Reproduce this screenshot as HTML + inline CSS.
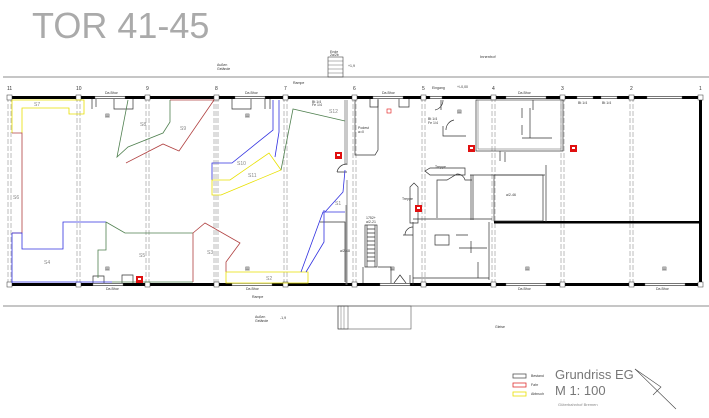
<!DOCTYPE html>
<html><head><meta charset="utf-8"><style>
html,body{margin:0;padding:0;background:#fff;}
svg{display:block;}
text{font-family:"Liberation Sans",sans-serif;}
.t{font-size:3.5px;fill:#333;}
.s{font-size:5px;fill:#888;}
</style></head><body>
<svg width="709" height="418" viewBox="0 0 709 418" xmlns="http://www.w3.org/2000/svg">
<text x="32" y="38" font-size="36" fill="#aaa">TOR 41-45</text>
<line x1="3" y1="77" x2="709" y2="77" stroke="#666" stroke-width="0.8"/>
<line x1="3" y1="306" x2="709" y2="306" stroke="#666" stroke-width="0.8"/>
<rect x="328" y="57" width="15" height="20" fill="none" stroke="#444" stroke-width="0.6"/>
<g stroke="#444" stroke-width="0.4"><line x1="328" y1="61" x2="343" y2="61"/><line x1="328" y1="65" x2="343" y2="65"/><line x1="328" y1="69" x2="343" y2="69"/><line x1="328" y1="73" x2="343" y2="73"/></g>
<text x="330" y="53" class="t">Ende</text><text x="330" y="56" class="t">2a/2b</text>
<text x="348" y="67" class="t">+1,9</text>
<text x="480" y="58" font-size="4" fill="#333">Innenhof</text>
<text x="217" y="66" class="t">Außen</text><text x="217" y="70" class="t">Gelände</text>
<text x="293" y="84" class="t">Rampe</text>
<text x="432" y="89" class="t">Eingang</text>
<text x="457" y="88" class="t">+/-0,00</text>
<rect x="338" y="306" width="73" height="23" fill="none" stroke="#555" stroke-width="0.6"/>
<rect x="338" y="306" width="10" height="23" fill="none" stroke="#444" stroke-width="0.5"/>
<g stroke="#444" stroke-width="0.4"><line x1="341" y1="306" x2="341" y2="329"/><line x1="344" y1="306" x2="344" y2="329"/></g>
<text x="255" y="318" class="t">Außen</text><text x="255" y="322" class="t">Gelände</text>
<text x="280" y="319" class="t">-1,9</text>
<text x="252" y="298" class="t">Rampe</text>
<text x="495" y="328" class="t">Gleise</text>
<g font-size="5" fill="#333">
<text x="7" y="90">11</text><text x="76" y="90">10</text><text x="146" y="90">9</text><text x="215" y="90">8</text><text x="284" y="90">7</text><text x="353" y="90">6</text><text x="422" y="90">5</text><text x="492" y="90">4</text><text x="561" y="90">3</text><text x="630" y="90">2</text><text x="699" y="90">1</text>
</g>
<rect x="9" y="96" width="693" height="3" fill="#000"/>
<rect x="9" y="283" width="693" height="3" fill="#000"/>
<rect x="699" y="96" width="3" height="190" fill="#000"/>
<rect x="494" y="221" width="208" height="2.5" fill="#000"/>
<g fill="#fff" stroke="#666" stroke-width="0.4">
<rect x="95" y="96.5" width="30" height="2"/><rect x="235" y="96.5" width="30" height="2"/><rect x="373" y="96.5" width="30" height="2"/>
<rect x="506" y="96.5" width="40" height="2"/><rect x="577" y="96.5" width="16" height="2"/><rect x="601" y="96.5" width="16" height="2"/><rect x="647" y="96.5" width="35" height="2"/>
<rect x="93" y="283.5" width="30" height="2"/><rect x="232" y="283.5" width="40" height="2"/><rect x="380" y="283.5" width="30" height="2"/>
<rect x="506" y="283.5" width="40" height="2"/><rect x="645" y="283.5" width="40" height="2"/>
<rect x="430" y="96.5" width="12" height="2"/>
</g>
<g stroke="#555" stroke-width="0.4" stroke-dasharray="5,2" fill="none">
<line x1="8" y1="97" x2="8" y2="285"/><line x1="11" y1="97" x2="11" y2="285"/>
<line x1="77" y1="97" x2="77" y2="285"/><line x1="80" y1="97" x2="80" y2="285"/>
<line x1="146" y1="97" x2="146" y2="285"/><line x1="149" y1="97" x2="149" y2="285"/>
<line x1="214" y1="97" x2="214" y2="285"/><line x1="216" y1="97" x2="216" y2="285"/><line x1="218" y1="97" x2="218" y2="285"/>
<line x1="284" y1="97" x2="284" y2="285"/><line x1="287" y1="97" x2="287" y2="285"/>
<line x1="353" y1="97" x2="353" y2="285"/><line x1="356" y1="97" x2="356" y2="285"/>
<line x1="422" y1="97" x2="422" y2="285"/><line x1="425" y1="97" x2="425" y2="285"/>
<line x1="492" y1="97" x2="492" y2="285"/><line x1="495" y1="97" x2="495" y2="285"/>
<line x1="561" y1="97" x2="561" y2="285"/><line x1="564" y1="97" x2="564" y2="285"/>
<line x1="630" y1="97" x2="630" y2="285"/><line x1="633" y1="97" x2="633" y2="285"/>
</g>
<g fill="#fff" stroke="#333" stroke-width="0.5">
<rect x="7" y="95" width="5" height="5"/><rect x="76" y="95" width="5" height="5"/><rect x="145" y="95" width="5" height="5"/><rect x="214" y="95" width="5" height="5"/><rect x="283" y="95" width="5" height="5"/><rect x="352" y="95" width="5" height="5"/><rect x="421" y="95" width="5" height="5"/><rect x="491" y="95" width="5" height="5"/><rect x="560" y="95" width="5" height="5"/><rect x="629" y="95" width="5" height="5"/><rect x="698" y="95" width="5" height="5"/>
<rect x="7" y="282" width="5" height="5"/><rect x="76" y="282" width="5" height="5"/><rect x="145" y="282" width="5" height="5"/><rect x="214" y="282" width="5" height="5"/><rect x="283" y="282" width="5" height="5"/><rect x="352" y="282" width="5" height="5"/><rect x="421" y="282" width="5" height="5"/><rect x="491" y="282" width="5" height="5"/><rect x="560" y="282" width="5" height="5"/><rect x="629" y="282" width="5" height="5"/><rect x="698" y="282" width="5" height="5"/>
</g>
<g class="t"><text x="105" y="94" class="t">Da.Bhor</text><text x="245" y="94" class="t">Da.Bhor</text><text x="382" y="94" class="t">Da.Bhor</text><text x="518" y="94" class="t">Da.Bhor</text>
<text x="106" y="290" class="t">Da.Bhor</text><text x="246" y="290" class="t">Da.Bhor</text><text x="518" y="290" class="t">Da.Bhor</text><text x="656" y="290" class="t">Da.Bhor</text></g>
<g fill="none" stroke="#333" stroke-width="0.7">
<path d="M92 99 v10 M96 99 v8 M114 99 v10 h19 v-10"/><path d="M232 99 v10 h19 v-10 M265 99 v10 M270 99 v10"/>
<path d="M370 99 v8 h8 v-8 M399 99 v8 h10 v-8"/>
<path d="M93 283 v-7 h11 v7 M122 283 v-8 h11 v8"/>
<path d="M345 100 v65 M347 100 v65 M347 180 v105 M346 205 v80" stroke="#666"/>
<path d="M337 172 a10 10 0 0 1 10 -8 M337 172 h10"/>
<path d="M355 100 v55 h20 l3 -5 v-50"/>
<rect x="476" y="100" width="87" height="51"/><rect x="478" y="100" width="83" height="49" stroke="#888"/>
<path d="M522 108 v10 M522 125 v10 M522 138 h30 M530 108 v30 M533 100 v10"/>
<path d="M441 100 v10 M443 126 v10 h23 M443 100 a10 10 0 0 1 -8 10 M446 130 a10 10 0 0 1 8 -10"/>
<path d="M500 151 v10 M505 152 v10"/>
<rect x="494" y="175" width="49" height="46"/><path d="M546 165 v57"/>
<path d="M430 168 h35 v7 h-35 l-5 -4 z"/>
<path d="M471 175 v45 M473 175 v45 M470 175 h75"/>
<path d="M437 218 v-38 h10 l10 -6 a8 8 0 0 1 8 6 h7"/>
<path d="M410 187 l4 -4 l4 4 v36 h-8 z"/>
<path d="M413 219 h79 M413 222 v63 M489 222 v58 M413 278 h76"/>
<path d="M435 235 h14 v10 h-14 z M456 235 h12 M459 248 h28"/>
<path d="M478 262 v16 M471 241 v12"/>
<path d="M405 235 a8 8 0 0 1 8 -8 M403 235 h10"/>
<rect x="365" y="225" width="12" height="42"/>
<path d="M367 225 v42 M375 225 v42 M367 229 h8 M367 233 h8 M367 237 h8 M367 241 h8 M367 245 h8 M367 249 h8 M367 253 h8 M367 257 h8 M367 261 h8"/>
<path d="M363 267 v16 M378 267 h13 v16 M394 283 l6 -8 l6 8 M410 283 v-8"/>
<path d="M320 222 h25 v60"/>
</g>
<g fill="none" stroke-width="0.8">
<polyline stroke="#e8e000" points="12,100 84,100 84,114 69,114 69,108 22,108 22,133"/>
<line stroke="#e8e000" x1="12" y1="100" x2="12" y2="133"/>
<polyline stroke="#b04040" points="12,133 22,133 22,233 12,233"/>
<polyline stroke="#3030e0" points="12,233 22,233 22,249 63,249 63,222 106,222"/>
<line stroke="#3030e0" x1="12" y1="233" x2="12" y2="283"/>
<line stroke="#3030e0" x1="12" y1="282" x2="112" y2="282"/>
<polyline stroke="#508050" points="106,222 125,233 193,233"/>
<polyline stroke="#508050" points="106,222 106,250 98,250 98,278"/>
<line stroke="#508050" x1="112" y1="282" x2="193" y2="282"/>
<polyline stroke="#b04040" points="193,282 193,233 205,223 240,243 226,262 226,272"/>
<polygon stroke="#e8e000" points="226,272 308,272 308,283 226,283"/>
<polyline stroke="#3030e0" points="301,272 323,212 345,212"/>
<polyline stroke="#3030e0" points="306,272 324,242 324,210"/>
<polyline stroke="#3030e0" points="325,212 343,192 345,170"/>
<polyline stroke="#3030e0" points="273,100 273,130 232,163 212,163 212,180"/>
<polyline stroke="#3030e0" points="279,100 279,132 275,157"/>
<polygon stroke="#e8e000" points="212,180 230,180 269,153 281,170 221,195 212,195"/>
<polyline stroke="#508050" points="281,170 293,109 345,121"/>
<polyline stroke="#508050" points="128,100 117,157 128,147 163,133 170,122 170,100"/>
<polyline stroke="#b04040" points="126,163 163,144 179,151 214,100 170,100"/>
</g>
<g class="s">
<text x="34" y="106">S7</text><text x="180" y="130">S9</text><text x="140" y="126">S8</text><text x="329" y="113">S12</text>
<text x="237" y="165">S10</text><text x="248" y="177">S11</text><text x="13" y="199">S6</text><text x="335" y="205">S1</text>
<text x="44" y="264">S4</text><text x="139" y="257">S5</text><text x="207" y="254">S3</text><text x="266" y="280">S2</text>
</g>
<g class="t">
<text x="358" y="129">Podest</text><text x="358" y="133">a=0</text>
<text x="340" y="252">a/2-48</text><text x="506" y="196">a/2-46</text>
<text x="366" y="219">1752+</text><text x="366" y="223">a/2-21</text>
<text x="312" y="103">Bt 1/4</text><text x="312" y="106">Fe 1/4</text>
<text x="428" y="120">Bt 1/4</text><text x="428" y="124">Fe 1/4</text>
<text x="578" y="104">Bt 1/4</text><text x="602" y="104">Bt 1/4</text>
<text x="435" y="168">Treppe</text><text x="402" y="200">Treppe</text>
</g>
<g fill="#333" font-size="5">
<text x="105" y="117">▤</text><text x="245" y="117">▤</text><text x="105" y="270">▤</text><text x="245" y="270">▤</text>
<text x="390" y="270">▤</text><text x="525" y="270">▤</text><text x="662" y="270">▤</text><text x="457" y="113">▤</text>
</g>
<g fill="#e01010">
<rect x="136" y="276" width="7" height="7"/><rect x="335" y="152" width="7" height="7"/><rect x="468" y="145" width="7" height="7"/>
<rect x="570" y="145" width="7" height="7"/><rect x="415" y="205" width="7" height="7"/>
</g>
<g fill="#fff"><rect x="138" y="278" width="3" height="2"/><rect x="337" y="154" width="3" height="2"/><rect x="470" y="147" width="3" height="2"/><rect x="572" y="147" width="3" height="2"/><rect x="417" y="207" width="3" height="2"/></g>
<rect x="387" y="109" width="4" height="4" fill="none" stroke="#e01010" stroke-width="0.6"/>
<rect x="513" y="374" width="13" height="4" fill="none" stroke="#555" stroke-width="0.8"/>
<rect x="513" y="383" width="13" height="4" fill="none" stroke="#e03030" stroke-width="0.8"/>
<rect x="513" y="392" width="13" height="4" fill="none" stroke="#e8e000" stroke-width="0.8"/>
<text x="531" y="377" font-size="3.5" fill="#333">Bestand</text>
<text x="531" y="386" font-size="3.5" fill="#333">Fahr</text>
<text x="531" y="395" font-size="3.5" fill="#333">Abbruch</text>
<text x="555" y="379" font-size="13" fill="#777">Grundriss EG</text>
<text x="555" y="395" font-size="13" fill="#777">M 1: 100</text>
<text x="558" y="406" font-size="4" fill="#888">Güterbahnhof Bremen</text>
<g fill="none" stroke="#444" stroke-width="0.6">
<line x1="635" y1="369" x2="676" y2="409"/>
<polyline points="635,369 661,387 653,395"/>
</g>
</svg>
</body></html>
